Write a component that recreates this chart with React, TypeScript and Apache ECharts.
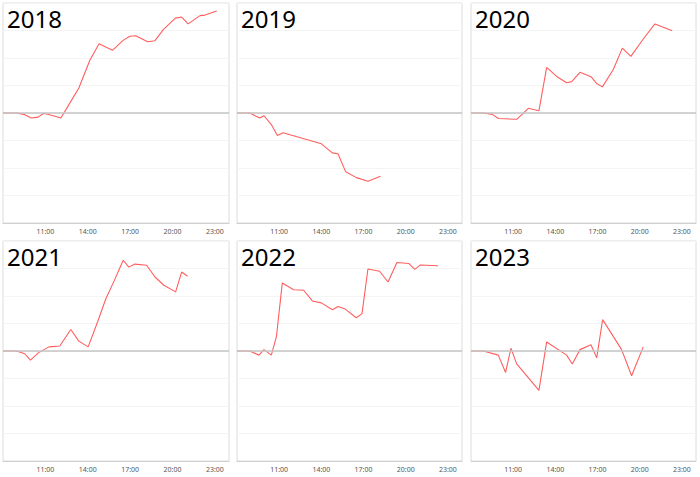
import React, { useEffect, useRef } from "react";
import * as echarts from "echarts";

// Years shown in panels
const years = ["2018", "2019", "2020", "2021", "2022", "2023"];

// X tick labels (hours)
const xTicks = [11, 14, 17, 20, 23];

// Time of day (hours) and values (in grid-line units) per year
const t2018 = [8.0, 8.95, 9.54, 10.0, 10.48, 10.9, 11.55, 12.1, 12.73, 13.37, 14.15, 14.8, 15.75, 16.5, 16.98, 17.4, 18.24, 18.76, 19.35, 20.2, 20.65, 21.1, 21.95, 22.3, 23.13];
const v2018 = [0, 0, -0.06, -0.18, -0.15, -0.01, -0.1, -0.18, 0.36, 0.91, 1.92, 2.52, 2.28, 2.64, 2.79, 2.81, 2.59, 2.63, 3.03, 3.45, 3.49, 3.24, 3.54, 3.56, 3.71];

const t2019 = [8.0, 8.9, 9.61, 9.92, 10.44, 10.87, 11.27, 14.0, 14.78, 15.18, 15.73, 16.49, 17.31, 18.21];
const v2019 = [0, 0, -0.18, -0.1, -0.42, -0.82, -0.72, -1.12, -1.45, -1.48, -2.14, -2.35, -2.48, -2.3];

const t2020 = [8.0, 8.88, 9.52, 9.94, 11.25, 12.08, 12.83, 13.38, 14.09, 14.8, 15.16, 15.75, 16.53, 16.94, 17.34, 18.12, 18.76, 19.37, 20.25, 21.08, 22.31];
const v2020 = [0, 0, -0.05, -0.2, -0.23, 0.17, 0.08, 1.66, 1.33, 1.1, 1.14, 1.48, 1.32, 1.07, 0.95, 1.58, 2.36, 2.06, 2.69, 3.24, 2.99];

const t2021 = [8.0, 8.95, 9.54, 9.94, 10.55, 11.26, 12.02, 12.8, 13.37, 14.03, 14.74, 15.28, 15.87, 16.51, 16.91, 17.34, 18.17, 18.76, 19.39, 20.22, 20.65, 21.07];
const v2021 = [0, 0, -0.1, -0.33, -0.05, 0.15, 0.18, 0.78, 0.36, 0.15, 1.12, 1.9, 2.55, 3.3, 3.05, 3.16, 3.12, 2.69, 2.39, 2.15, 2.87, 2.72];

const t2022 = [8.0, 8.9, 9.56, 9.92, 10.44, 10.8, 11.22, 12.03, 12.74, 13.36, 14.0, 14.78, 15.18, 15.65, 16.48, 16.89, 17.31, 18.14, 18.74, 19.37, 20.23, 20.64, 21.04, 22.29];
const v2022 = [0, 0, -0.15, 0.05, -0.15, 0.51, 2.47, 2.23, 2.21, 1.82, 1.75, 1.5, 1.62, 1.54, 1.21, 1.36, 2.98, 2.9, 2.51, 3.22, 3.18, 2.97, 3.13, 3.1];

const t2023 = [8.0, 8.88, 9.94, 10.46, 10.84, 11.25, 12.83, 13.38, 14.8, 15.2, 15.75, 16.53, 16.94, 17.36, 18.71, 19.42, 20.25];
const v2023 = [0, 0, -0.15, -0.78, 0.1, -0.47, -1.43, 0.33, -0.15, -0.47, 0.05, 0.23, -0.25, 1.14, 0.05, -0.9, 0.15];

const times = [t2018, t2019, t2020, t2021, t2022, t2023];
const values = [v2018, v2019, v2020, v2021, v2022, v2023];

const panelLefts = [3, 237, 471];
const panelTops = [3, 241];
const panelWidths = [226, 225, 225];
const panelHeight = 220;

export default function App() {
  const ref = useRef<HTMLDivElement>(null);
  useEffect(() => {
    if (!ref.current) return;
    const chart = echarts.init(ref.current, undefined, { renderer: "svg" });
    const grids: any[] = [];
    const xAxes: any[] = [];
    const yAxes: any[] = [];
    const series: any[] = [];
    const titles: any[] = [];
    years.forEach((y, i) => {
      const col = i % 3;
      const row = Math.floor(i / 3);
      grids.push({
        left: panelLefts[col],
        top: panelTops[row],
        width: panelWidths[col],
        height: panelHeight,
        show: true,
        borderColor: "#dcdcdc",
        borderWidth: 1,
        backgroundColor: "#fff",
      });
      xAxes.push({
        type: "value",
        gridIndex: i,
        min: 8,
        max: 24,
        interval: 3,
        axisLine: { show: true, onZero: false, lineStyle: { color: "#cfcfcf", width: 1 } },
        axisTick: { show: false },
        splitLine: { show: false },
        axisLabel: {
          fontSize: 7,
          color: "#555",
          margin: 5,
          fontFamily: "Noto Sans",
          formatter: (v: number) => (xTicks.indexOf(v) >= 0 ? `${v}:00` : ""),
        },
      });
      yAxes.push({
        type: "value",
        gridIndex: i,
        min: -4,
        max: 4,
        interval: 1,
        axisLine: { show: false },
        axisTick: { show: false },
        axisLabel: { show: false },
        splitLine: { show: true, lineStyle: { color: "#f4f4f4", width: 1 } },
      });
      series.push({
        type: "line",
        xAxisIndex: i,
        yAxisIndex: i,
        data: times[i].map((t, k) => [t, values[i][k]]),
        showSymbol: false,
        symbol: "none",
        lineStyle: { color: "#ff5e5e", width: 1.1 },
        itemStyle: { color: "#ff5e5e" },
        markLine: {
          silent: true,
          symbol: ["none", "none"],
          label: { show: false },
          lineStyle: { color: "#c4c4c4", width: 1.5, type: "solid" },
          data: [{ yAxis: 0 }],
        },
      });
      titles.push({
        text: y,
        left: panelLefts[col] + 4,
        top: panelTops[row] + 3,
        padding: 0,
        textStyle: { fontSize: 24, fontWeight: "normal", color: "#000", fontFamily: "Noto Sans" },
      });
    });
    chart.setOption({
      animation: false,
      backgroundColor: "#fff",
      title: titles,
      grid: grids,
      xAxis: xAxes,
      yAxis: yAxes,
      series,
    });
    return () => chart.dispose();
  }, []);
  return (
    <div
      ref={ref}
      style={{ position: "absolute", left: 0, top: 0, width: 700, height: 477 }}
    />
  );
}
